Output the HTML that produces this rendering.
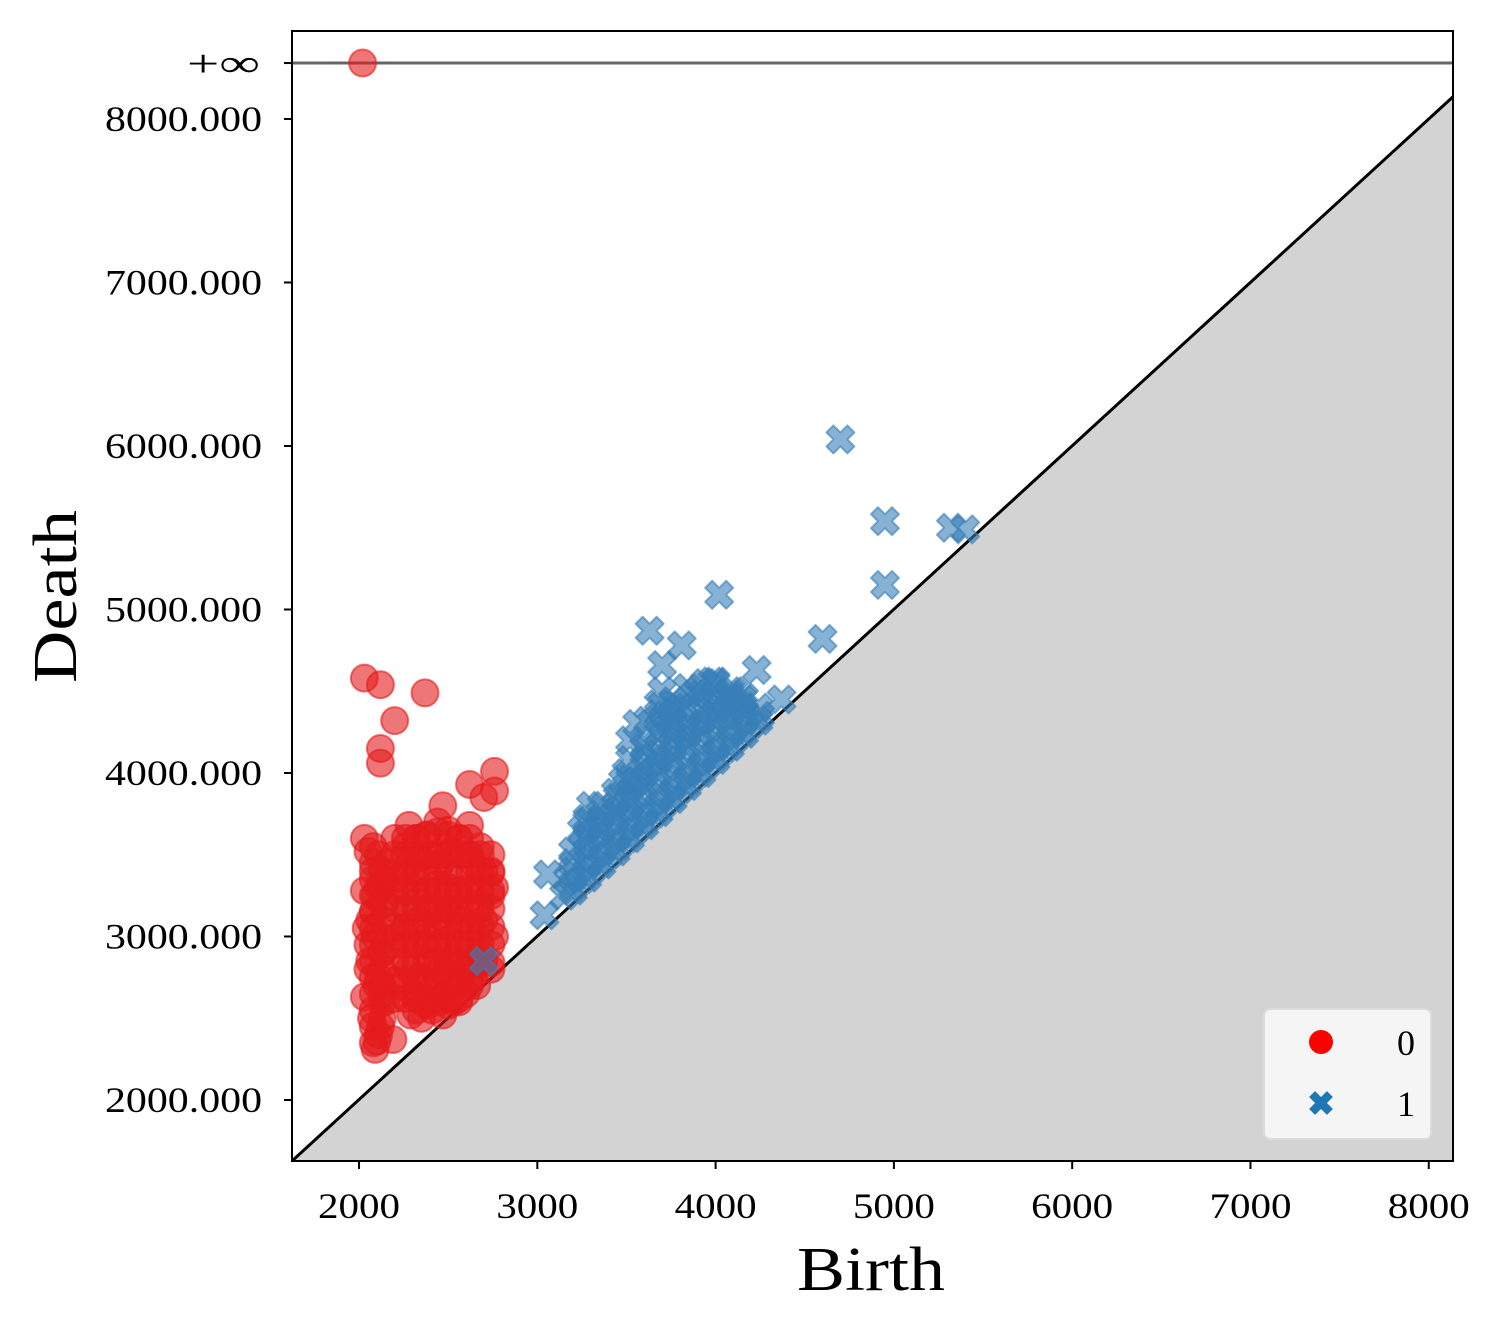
<!DOCTYPE html>
<html><head><meta charset="utf-8"><style>
html,body{margin:0;padding:0;background:#fff;}
svg text{font-family:"Liberation Serif",serif;fill:#000;}
</style></head><body>
<svg id="chart" width="1500" height="1334" xmlns="http://www.w3.org/2000/svg">
<rect width="1500" height="1334" fill="#fff"/>
<g id="plot"></g>
</svg>
<script>
const xTicks=[2000,3000,4000,5000,6000,7000,8000];
const yTicks=[2000,3000,4000,5000,6000,7000,8000];
const yTickLabels=["2000.000","3000.000","4000.000","5000.000","6000.000","7000.000","8000.000"];
const infValue=8342;
const h0Birth=[2020,2030,2120,2370,2200,2120,2120,2620,2760,2760,2700,2470,2030,2280,2100,2090,2190,2030,2030,2160,
2050,2080,2110,2140,2060,2090,2130,2050,2100,2150,2070,2120,2040,2080,2140,2060,2110,2050,2090,2130,
2260,2320,2380,2440,2500,2560,2620,2680,2740,2280,2340,2400,2460,2520,2580,2640,2700,2760,
2260,2320,2380,2440,2500,2560,2620,2680,2740,2280,2340,2400,2460,2520,2580,2640,2700,2760,
2260,2320,2380,2440,2500,2560,2620,2680,2740,2280,2340,2400,2460,2520,2580,2640,2700,
2300,2360,2420,2480,2540,2600,2660,2320,2380,2440,2500,2560,2620,2350,2410,2470,2530,2290,2200,2210,2230,
2080,2080,2080,2080,2080,2080,2080,2080,2080,2080,2080,
2130,2130,2130,2130,2130,2130,2130,2130,2130,2130,
2200,2200,2200,2200,2200,2200,2200,2200,2200,
2260,2260,2260,2260,2260,2260,2260,2260,2260,
2320,2320,2320,2320,2320,2320,2320,2320,2320,
2380,2380,2380,2380,2380,2380,2380,2380,2380,
2440,2440,2440,2440,2440,2440,2440,2440,2440,
2500,2500,2500,2500,2500,2500,2500,2500,2500,
2560,2560,2560,2560,2560,2560,2560,2560,2560,
2620,2620,2620,2620,2620,2620,2620,2620,
2680,2680,2680,2680,2680,2680,2680,
2740,2740,2740,2740,2740,2740,2740,
2200,2260,2320,2380,2440,2500,2560,2620,2080,2080,2110,2110];
const h0Death=[8342,4580,4540,4490,4320,4150,4060,3930,4010,3890,3850,3800,3600,3680,2360,2310,2370,2630,3280,3450,
3520,3400,3300,3200,3100,3000,2900,2800,2700,2600,2500,2450,3050,3150,3350,2850,2750,2950,3250,2650,
3550,3600,3620,3700,3650,3600,3680,3550,3400,3450,3480,3500,3450,3520,3500,3450,3400,3300,
3300,3350,3280,3320,3300,3250,3300,3200,3250,3150,3100,3180,3120,3150,3100,3050,3100,3000,
3000,2950,3000,2950,2980,2900,2950,2900,2800,2800,2750,2850,2800,2820,2780,2750,2850,
2650,2600,2700,2650,2700,2650,2700,2550,2580,2600,2580,2600,2700,2500,2550,2520,2600,2520,3350,3000,2700,
2450,2550,2650,2750,2850,2950,3050,3150,3250,3350,3450,
2500,2600,2700,2800,2900,3000,3100,3200,3300,3400,
2620,2730,2840,2950,3060,3170,3280,3390,3500,
2620,2730,2840,2950,3060,3170,3280,3390,3500,
2620,2730,2840,2950,3060,3170,3280,3390,3500,
2620,2730,2840,2950,3060,3170,3280,3390,3500,
2620,2730,2840,2950,3060,3170,3280,3390,3500,
2620,2730,2840,2950,3060,3170,3280,3390,3500,
2620,2730,2840,2950,3060,3170,3280,3390,3500,
2730,2840,2950,3060,3170,3280,3390,3500,
2840,2950,3060,3170,3280,3390,3500,
2840,2950,3060,3170,3280,3390,3500,
3600,3600,3600,3620,3640,3620,3600,3600,3550,2350,2400,3500];
const h1Birth=[4700,4950,4950,5320,5400,4020,3630,3810,3700,4600,4230,4370,3040,3060,2700,
3150,3200,3250,3300,3350,3400,3450,3500,3550,3600,3650,3700,3750,3800,3850,3900,3950,4000,4050,4100,4150,4200,4250,
3200,3250,3300,3350,3400,3450,3500,3550,3600,3650,3700,3750,3800,3850,3900,3950,4000,4050,4100,4150,
3250,3350,3450,3550,3650,3750,3850,3950,4050,4150,3300,3500,3600,3700,3800,3900,4000,4100,
3700,3720,3750,3880,3940,3980,4080,4120,3520,3560,3280,3170,3480,3620,3680,3760,
3200,3200,3200,3280,3280,3280,3280,3360,3360,3360,3360,3440,3440,3440,3440,
3520,3520,3520,3520,3520,3600,3600,3600,3600,3600,
3680,3680,3680,3680,3680,3680,3760,3760,3760,3760,3760,3760,
3840,3840,3840,3840,3840,3840,3920,3920,3920,3920,3920,
4000,4000,4000,4000,4000,4080,4080,4080,4080,4160,4160,4160,4240,4240];
const h1Death=[6040,5540,5150,5500,5490,5090,4870,4780,4660,4820,4630,4450,3130,3380,2850,
3250,3300,3350,3400,3450,3500,3550,3600,3650,3700,3750,3800,3850,3900,3950,4000,4050,4100,4150,4200,4250,4300,4350,
3450,3550,3600,3650,3700,3750,3800,3850,3950,4000,4050,4100,4150,4200,4250,4300,4350,4350,4400,4400,
3650,3750,3850,3950,4100,4250,4300,4400,4450,4450,3800,4000,4150,4300,4400,4500,4550,4500,
4500,4350,4250,4480,4550,4560,4480,4420,4200,4300,3700,3350,3950,4320,4420,4380,
3280,3400,3520,3360,3480,3600,3720,3440,3560,3680,3800,3520,3640,3760,3880,
3600,3720,3840,3960,4080,3680,3800,3920,4040,4160,
3760,3880,4000,4120,4240,4360,3840,3960,4080,4200,4320,4440,
3920,4040,4160,4280,4400,4520,4000,4120,4240,4360,4480,
4080,4200,4320,4440,4560,4160,4280,4400,4500,4240,4360,4460,4320,4400];

const L=292,R=1453,T=31,B=1161,xmin=1624,xmax=8136,ymin=1627,ymax=8538;
const sx=v=>L+(v-xmin)/(xmax-xmin)*(R-L);
const sy=v=>B-(v-ymin)/(ymax-ymin)*(B-T);
const NS="http://www.w3.org/2000/svg";
const g=document.getElementById('plot');
function mk(tag,attrs,parent){const e=document.createElementNS(NS,tag);for(const k in attrs)e.setAttribute(k,attrs[k]);(parent||g).appendChild(e);return e;}

const dy=sy(xmax);
let e=mk('polygon',{points:`${L},${B} ${R},${dy} ${R},${B}`,fill:'#d3d3d3'});


e=mk('line',{x1:L,y1:B,x2:R,y2:dy,stroke:'#000','stroke-width':3});


e=mk('line',{x1:L,y1:sy(infValue),x2:R,y2:sy(infValue),stroke:'#666','stroke-width':3});



for(let i=0;i<h0Birth.length;i++){
  const c=mk('circle',{cx:sx(h0Birth[i]),cy:sy(h0Death[i]),r:13.5,fill:'rgba(228,26,28,0.6)',stroke:'rgba(228,26,28,0.6)','stroke-width':2});
  
  
}
const xs="M-7,-14 L0,-7 L7,-14 L14,-7 L7,0 L14,7 L7,14 L0,7 L-7,14 L-14,7 L-7,0 L-14,-7 Z";
for(let i=0;i<h1Birth.length;i++){
  const p=mk('path',{d:xs,transform:`translate(${sx(h1Birth[i])},${sy(h1Death[i])})`,fill:'rgba(55,126,184,0.6)',stroke:'rgba(55,126,184,0.6)','stroke-width':2,'stroke-linejoin':'round'});
  
  
}

e=mk('rect',{x:L,y:T,width:R-L,height:B-T,fill:'none',stroke:'#000','stroke-width':2});



xTicks.forEach(v=>{
  const x=sx(v);
  mk('line',{x1:x,y1:B,x2:x,y2:B+8,stroke:'#000','stroke-width':2});
  const t=mk('text',{x:x,y:B+57,'text-anchor':'middle','font-size':36,textLength:82,lengthAdjust:'spacingAndGlyphs'});
  t.textContent=v;
  
  
});
yTicks.forEach((v,i)=>{
  const y=sy(v);
  mk('line',{x1:L-8,y1:y,x2:L,y2:y,stroke:'#000','stroke-width':2});
  const t=mk('text',{x:105,y:y+12,'font-size':36,textLength:157,lengthAdjust:'spacingAndGlyphs'});
  t.textContent=yTickLabels[i];
  
  
});
mk('line',{x1:L-8,y1:sy(infValue),x2:L,y2:sy(infValue),stroke:'#000','stroke-width':2});
let t=mk('text',{x:187,y:sy(infValue)+13,'font-size':38,textLength:73,lengthAdjust:'spacingAndGlyphs'});
t.textContent='+∞';



t=mk('text',{x:797,y:1290,'font-size':62,textLength:148,lengthAdjust:'spacingAndGlyphs'});
t.textContent='Birth';


t=mk('text',{x:0,y:0,'font-size':62,textLength:173,lengthAdjust:'spacingAndGlyphs',transform:`translate(76,683) rotate(-90)`});
t.textContent='Death';



const lg=mk('g',{});


mk('rect',{x:1264,y:1009,width:167,height:130,rx:6,fill:'#f5f5f5',stroke:'#dcdcdc','stroke-width':2},lg);
mk('circle',{cx:1321,cy:1042,r:12,fill:'#ff0000'},lg);
mk('path',{d:xs,transform:'translate(1321,1103) scale(0.85)',fill:'#1f77b4'},lg);
t=mk('text',{x:1415,y:1055,'text-anchor':'end','font-size':36},lg);
t.textContent='0';


t=mk('text',{x:1415,y:1116,'text-anchor':'end','font-size':36},lg);
t.textContent='1';


</script>
</body></html>
